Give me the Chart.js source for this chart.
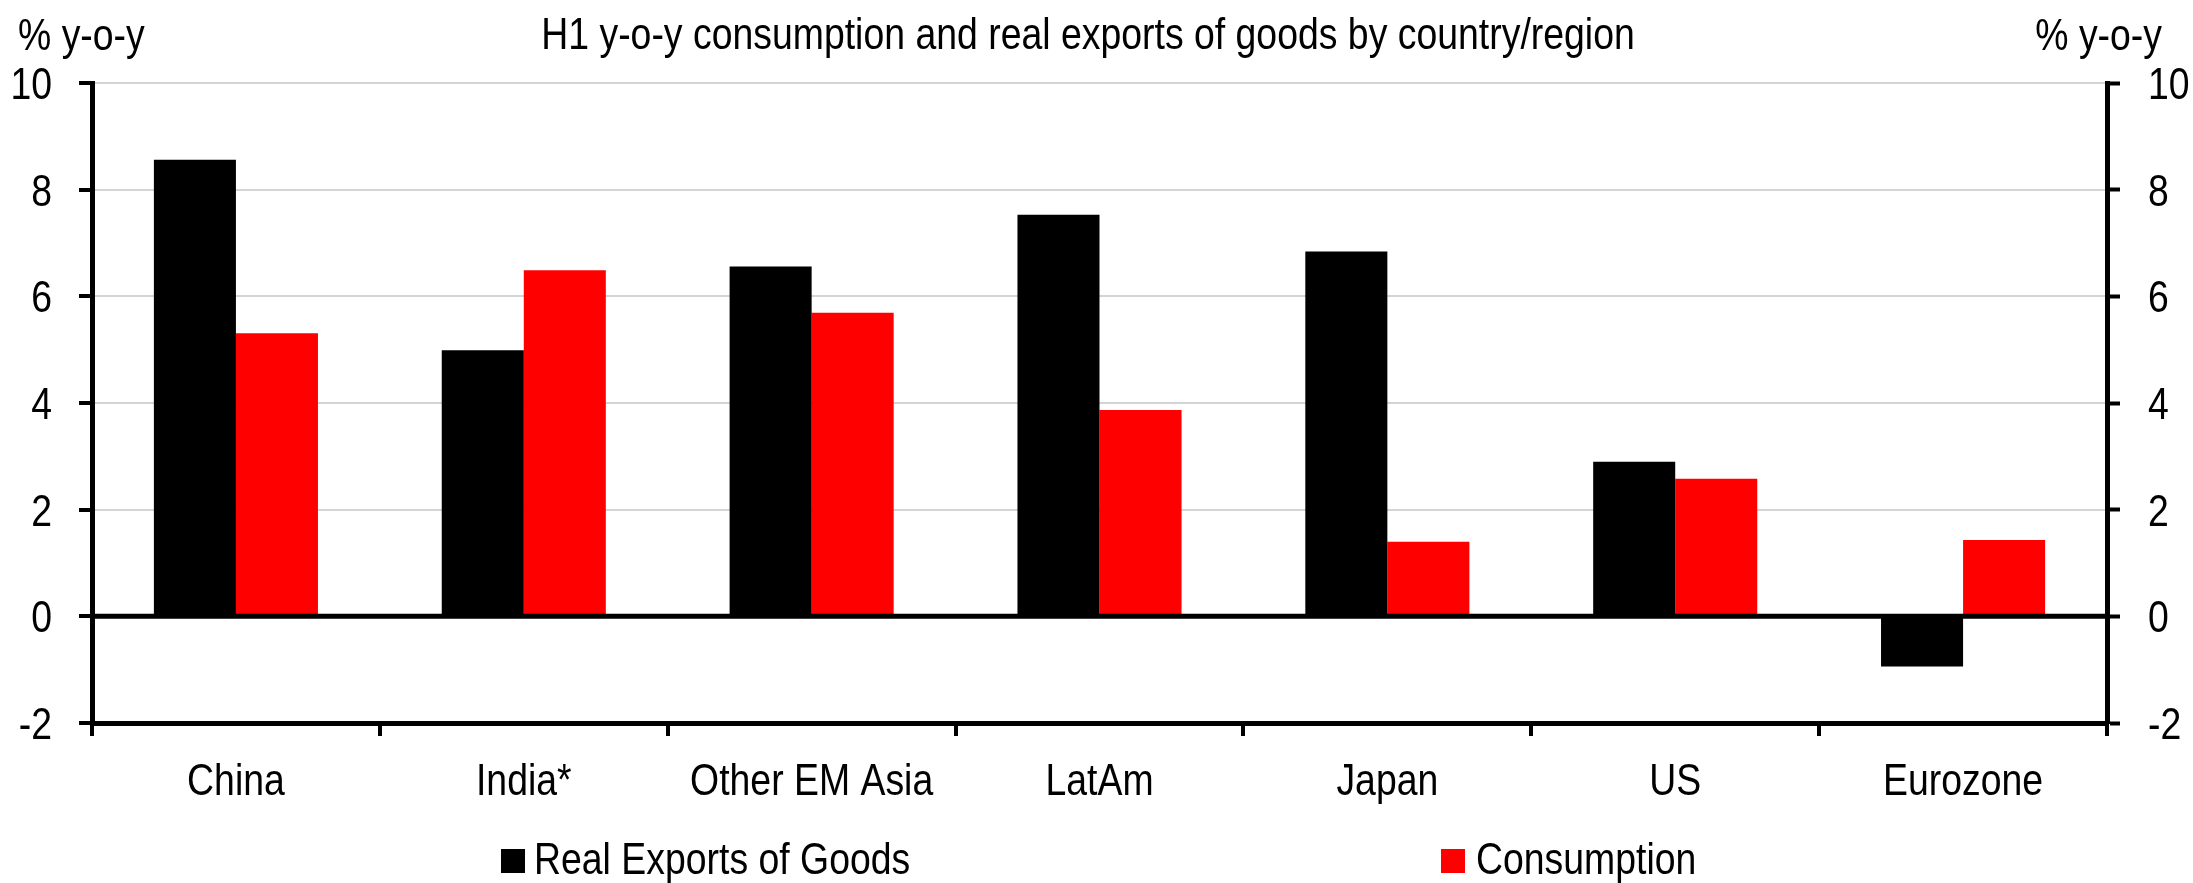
<!DOCTYPE html>
<html>
<head>
<meta charset="utf-8">
<script src="https://cdn.jsdelivr.net/npm/chart.js@4.4.1/dist/chart.umd.min.js"></script>
<style>
  html, body { margin: 0; padding: 0; background: #fff; }
</style>
</head>
<body>
<canvas id="myChart" width="2193" height="883"></canvas>
<script>
var categories = ["China", "India*", "Other EM Asia", "LatAm", "Japan", "US", "Eurozone"];
var exportsGoods = [8.56, 4.99, 6.56, 7.53, 6.84, 2.9, -0.94];
var consumption = [5.31, 6.49, 5.69, 3.87, 1.4, 2.58, 1.43];
var seriesNames = ["Real Exports of Goods", "Consumption"];
var seriesColors = ["#000000", "#ff0000"];
var yTicks = [-2, 0, 2, 4, 6, 8, 10];
var chartTitle = "H1 y-o-y consumption and real exports of goods by country/region";
var unitLabel = "% y-o-y";

var FONT = '"Liberation Sans", Arial, sans-serif';
var SQUEEZE = 0.85; // the original uses a narrow face, so squash the text a bit

// draw text squashed horizontally around its anchor
function narrowText(c, txt, x, y, align) {
  c.save();
  c.translate(x, y);
  c.scale(SQUEEZE, 1);
  c.textAlign = align;
  c.fillText(txt, 0, 0);
  c.restore();
}

var extras = {
  id: 'extras',
  afterDatasetsDraw: function(chart) {
    // zero line over the bars
    var c = chart.ctx, a = chart.chartArea;
    var y0 = chart.scales.y.getPixelForValue(0);
    c.save();
    c.strokeStyle = '#000';
    c.lineWidth = 5;
    c.beginPath();
    c.moveTo(a.left, y0);
    c.lineTo(a.right, y0);
    c.stroke();
    c.restore();
  },
  afterDraw: function(chart) {
    var c = chart.ctx, a = chart.chartArea;
    var xs = chart.scales.x, ys = chart.scales.y;
    c.save();
    c.fillStyle = '#000';
    c.font = '44px ' + FONT;
    c.textBaseline = 'alphabetic';

    narrowText(c, chartTitle, 1088, 49, 'center');
    narrowText(c, unitLabel, 18, 50, 'left');
    narrowText(c, unitLabel, 2162, 50, 'right');

    // tick labels
    yTicks.forEach(function(v) {
      var py = ys.getPixelForValue(v) + 16;
      narrowText(c, String(v), a.left - 40, py, 'right');
      narrowText(c, String(v), a.right + 41, py, 'left');
    });
    categories.forEach(function(cat, i) {
      narrowText(c, cat, xs.getPixelForValue(i), 795, 'center');
    });

    // legend
    var items = [[501, 534], [1441, 1476]];
    for (var i = 0; i < seriesNames.length; i++) {
      c.fillStyle = seriesColors[i];
      c.fillRect(items[i][0], 849, 24, 24);
      c.fillStyle = '#000';
      narrowText(c, seriesNames[i], items[i][1], 874, 'left');
    }
    c.restore();
  }
};

var ctx = document.getElementById("myChart").getContext('2d');
var myChart = new Chart(ctx, {
  type: 'bar',
  data: {
    labels: categories,
    datasets: [{
      label: seriesNames[0],
      data: exportsGoods,
      backgroundColor: seriesColors[0],
      yAxisID: 'y'
    }, {
      label: seriesNames[1],
      data: consumption,
      backgroundColor: seriesColors[1],
      yAxisID: 'y'
    }]
  },
  plugins: [extras],
  options: {
    responsive: false,
    animation: false,
    categoryPercentage: 0.57,
    barPercentage: 1,
    layout: {
      padding: { top: 83, left: 79, right: 73, bottom: 147 }
    },
    plugins: {
      legend: { display: false },
      title: { display: false },
      tooltip: { enabled: false }
    },
    scales: {
      x: {
        offset: true,
        grid: {
          offset: true,
          drawOnChartArea: false,
          color: '#000',
          lineWidth: 4,
          tickLength: 13
        },
        border: { display: true, color: '#000', width: 5 },
        ticks: { display: false, autoSkip: false }
      },
      y: {
        position: 'left',
        min: -2,
        max: 10,
        afterBuildTicks: function(axis) {
          axis.ticks = yTicks.map(function(v) { return { value: v }; });
        },
        grid: {
          color: function(c) { return c.tick && c.tick.value === 0 ? 'rgba(0,0,0,0)' : '#d4d4d4'; },
          lineWidth: 2,
          tickColor: '#000',
          tickWidth: 4,
          tickLength: 13
        },
        border: { display: true, color: '#000', width: 5 },
        ticks: { display: false }
      },
      y2: {
        position: 'right',
        min: -2,
        max: 10,
        afterBuildTicks: function(axis) {
          axis.ticks = yTicks.map(function(v) { return { value: v }; });
        },
        grid: {
          drawOnChartArea: false,
          color: '#000',
          tickColor: '#000',
          tickWidth: 4,
          tickLength: 13
        },
        border: { display: true, color: '#000', width: 5 },
        ticks: { display: false }
      }
    }
  }
});
</script>
</body>
</html>
